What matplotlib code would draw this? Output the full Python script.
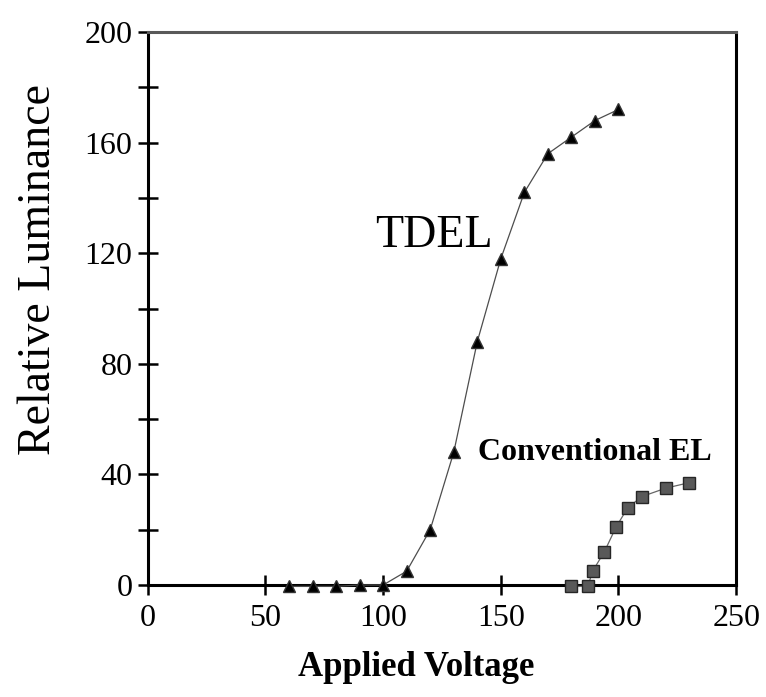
import numpy as np
import matplotlib.pyplot as plt

# TDEL curve (triangles)
tdel_v = [60, 70, 80, 90, 100, 110, 120, 130, 140, 150, 160, 170, 180, 190, 200]
tdel_l = [-0.5, -0.5, -0.5, 0, 0, 5, 20, 48, 88, 118, 142, 156, 162, 168, 172]

# Conventional EL curve (squares)
conv_v = [180, 187, 189, 194, 199, 204, 210, 220, 230]
conv_l = [-0.5, -0.5, 5, 12, 21, 28, 32, 35, 37]

x_ticks = [0, 50, 100, 150, 200, 250]
y_labels = [0, 40, 80, 120, 160, 200]

plt.rcParams['font.family'] = 'Liberation Serif'

fig = plt.figure(figsize=(7.66, 6.97), dpi=100)
ax = fig.add_axes([0.193, 0.1607, 0.768, 0.7933])

ax.plot(tdel_v, tdel_l, color='0.3', lw=0.9, marker='^', ms=8,
        mfc='black', mec='0.2', zorder=3, clip_on=False)
ax.plot(conv_v, conv_l, color='0.4', lw=0.9, marker='s', ms=8,
        mfc='0.35', mec='0.15', zorder=3, clip_on=False)

ax.set_xlim(0, 250)
ax.set_ylim(0, 200)
ax.set_xticks(x_ticks)
ax.set_yticks(np.arange(0, 201, 20))
ax.set_yticklabels([str(v) if v in y_labels else '' for v in range(0, 201, 20)])

ax.tick_params(direction='inout', length=14, width=1.8, labelsize=23,
               colors='black', pad=4)
ax.tick_params(axis='x', pad=7)

for s in ['left', 'bottom', 'right']:
    ax.spines[s].set_linewidth(2.2)
    ax.spines[s].set_color('black')
ax.spines['top'].set_linewidth(2.2)
ax.spines['top'].set_color('0.35')

ax.set_xlabel('Applied Voltage', fontsize=25, fontweight='bold')
ax.xaxis.set_label_coords(0.457, -0.12)
ax.set_ylabel('Relative Luminance', fontsize=33)
ax.yaxis.set_label_coords(-0.15, 0.57)

ax.text(121.5, 126.5, 'TDEL', fontsize=33, ha='center', va='center')
ax.text(140.5, 48, 'Conventional EL', fontsize=23, fontweight='bold',
        ha='left', va='center')

fig.savefig('out.png', dpi=100)
